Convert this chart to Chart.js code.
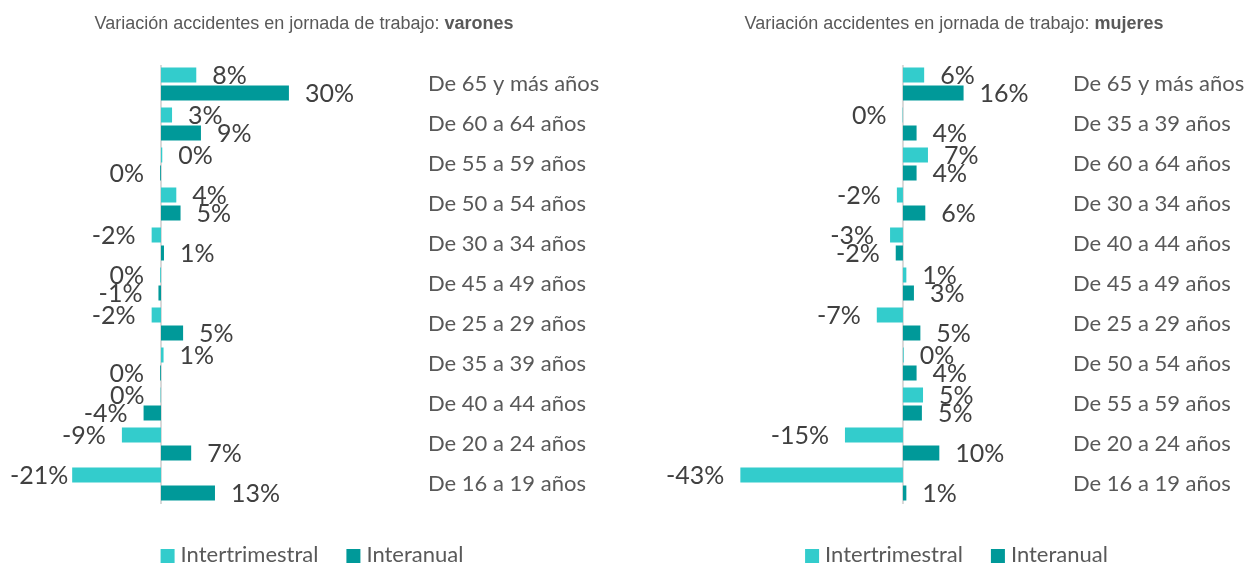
<!DOCTYPE html>
<html lang="es">
<head>
<meta charset="utf-8">
<title>Variación accidentes en jornada de trabajo</title>
<script src="https://cdn.jsdelivr.net/npm/chart.js@4.4.1/dist/chart.umd.min.js"></script>
<style>
  html, body { margin: 0; padding: 0; background: #ffffff; overflow: hidden; }
  #wrap { position: relative; width: 1258px; height: 565px; }
  canvas { position: absolute; top: 0; }
  #cVarones { left: 0; }
  #cMujeres { left: 629px; }
</style>
</head>
<body>
<div id="wrap">
  <canvas id="cVarones" width="629" height="565"></canvas>
  <canvas id="cMujeres" width="629" height="565"></canvas>
</div>
<script>
// Series names
const series = ['Intertrimestral', 'Interanual'];

// Varones: age groups (top to bottom) and % variation
const categoriasVarones = [
  'De 65 y más años', 'De 60 a 64 años', 'De 55 a 59 años', 'De 50 a 54 años',
  'De 30 a 34 años', 'De 45 a 49 años', 'De 25 a 29 años', 'De 35 a 39 años',
  'De 40 a 44 años', 'De 20 a 24 años', 'De 16 a 19 años'
];
const intertrimestralVarones = [8.3, 2.6, 0.3, 3.6, -2.2, -0.2, -2.2, 0.6, -0.1, -9.2, -20.9];
const interanualVarones      = [30.1, 9.4, -0.2, 4.6, 0.7, -0.6, 5.2, -0.2, -4.1, 7.1, 12.7];

// Mujeres: age groups (top to bottom) and % variation
const categoriasMujeres = [
  'De 65 y más años', 'De 35 a 39 años', 'De 60 a 64 años', 'De 30 a 34 años',
  'De 40 a 44 años', 'De 45 a 49 años', 'De 25 a 29 años', 'De 50 a 54 años',
  'De 55 a 59 años', 'De 20 a 24 años', 'De 16 a 19 años'
];
const intertrimestralMujeres = [5.6, -0.1, 6.6, -1.6, -3.4, 0.9, -6.9, 0.2, 5.3, -15.3, -42.9];
const interanualMujeres      = [16.0, 3.6, 3.6, 5.9, -1.9, 2.9, 4.6, 3.6, 5.0, 9.6, 0.9];

const COLORS = ['#33CCCC', '#009999'];
const TEXT = '#595959';
const LABEL = '#404040';

// Vertical zero line drawn behind the bars
const zeroLine = {
  id: 'zeroLine',
  beforeDatasetsDraw(chart) {
    const { ctx, chartArea, scales } = chart;
    const x0 = scales.x.getPixelForValue(0);
    ctx.save();
    ctx.strokeStyle = '#D9D9D9';
    ctx.lineWidth = 2;
    ctx.beginPath();
    ctx.moveTo(x0, chartArea.top + 1);
    ctx.lineTo(x0, chartArea.bottom);
    ctx.stroke();
    ctx.restore();
  }
};

// Percentage labels beside the end of each bar
const valueLabels = {
  id: 'valueLabels',
  afterDatasetsDraw(chart) {
    const { ctx } = chart;
    ctx.save();
    ctx.font = '25px Lato';
    ctx.fillStyle = LABEL;
    ctx.textBaseline = 'middle';
    chart.data.datasets.forEach((ds, di) => {
      const meta = chart.getDatasetMeta(di);
      meta.data.forEach((bar, i) => {
        const v = ds.data[i];
        const txt = `${Math.round(v)}%`;
        const w = ctx.measureText(txt).width;
        if (v >= 0) {
          ctx.textAlign = 'left';
          ctx.fillText(txt, bar.x + 16, bar.y + 1);
        } else {
          ctx.textAlign = 'right';
          ctx.fillText(txt, Math.max(bar.x - 16, w + 10), bar.y + 1);
        }
      });
    });
    ctx.restore();
  }
};

// Title with a bold final word, and a legend row at the bottom
const heading = {
  id: 'heading',
  afterDraw(chart, args, opts) {
    const { ctx } = chart;
    ctx.save();
    ctx.fillStyle = TEXT;
    ctx.textBaseline = 'alphabetic';
    ctx.textAlign = 'left';
    const regular = '18px "Liberation Sans", Arial, sans-serif';
    const bold = 'bold 18px "Liberation Sans", Arial, sans-serif';
    ctx.font = regular;
    const w1 = ctx.measureText(opts.text).width;
    ctx.font = bold;
    const w2 = ctx.measureText(opts.strong).width;
    let x = opts.center - (w1 + w2) / 2;
    ctx.font = regular;
    ctx.fillText(opts.text, x, 29);
    ctx.font = bold;
    ctx.fillText(opts.strong, x + w1, 29);

    // legend
    ctx.font = '22px Lato';
    const box = 14, gapText = 6, gapItem = 28;
    const items = chart.data.datasets.map(d => ({ label: d.label, color: d.backgroundColor, w: ctx.measureText(d.label).width }));
    const total = items.reduce((s, it) => s + box + gapText + it.w, 0) + gapItem * (items.length - 1);
    x = opts.legendCenter - total / 2;
    items.forEach(it => {
      ctx.fillStyle = it.color;
      ctx.fillRect(x, 549, box, box);
      ctx.fillStyle = TEXT;
      ctx.fillText(it.label, x + box + gapText, 562);
      x += box + gapText + it.w + gapItem;
    });
    ctx.restore();
  }
};

function makeChart(id, labels, a, b, cfg) {
  return new Chart(document.getElementById(id), {
    type: 'bar',
    data: {
      labels: labels,
      datasets: [
        { label: series[0], data: a, backgroundColor: COLORS[0] },
        { label: series[1], data: b, backgroundColor: COLORS[1] }
      ]
    },
    options: {
      indexAxis: 'y',
      responsive: false,
      animation: false,
      devicePixelRatio: 1,
      categoryPercentage: 0.9,
      barPercentage: 0.834,
      layout: { padding: { left: cfg.padLeft, right: 0, top: 64, bottom: 61 } },
      scales: {
        x: { display: false, min: cfg.min, max: cfg.max },
        y: {
          position: 'right',
          grid: { display: false, drawTicks: false },
          border: { display: false },
          ticks: { padding: cfg.tickPad, color: TEXT, font: { family: 'Lato', size: 22 } },
          afterFit: (scale) => { scale.width = cfg.axisWidth; }
        }
      },
      plugins: {
        legend: { display: false },
        tooltip: { enabled: false },
        heading: { text: 'Variación accidentes en jornada de trabajo: ', strong: cfg.strong, center: cfg.titleCenter, legendCenter: cfg.legendCenter }
      }
    },
    plugins: [zeroLine, valueLabels, heading]
  });
}

makeChart('cVarones', categoriasVarones, intertrimestralVarones, interanualVarones, {
  min: -35, max: 60, padLeft: 12.25, axisWidth: 213, tickPad: 12,
  strong: 'varones', titleCenter: 304, legendCenter: 312
});
makeChart('cMujeres', categoriasMujeres, intertrimestralMujeres, interanualMujeres, {
  min: -64, max: 43, padLeft: 31.4, axisWidth: 192.1, tickPad: 7,
  strong: 'mujeres', titleCenter: 325, legendCenter: 327.5
});
</script>
</body>
</html>
